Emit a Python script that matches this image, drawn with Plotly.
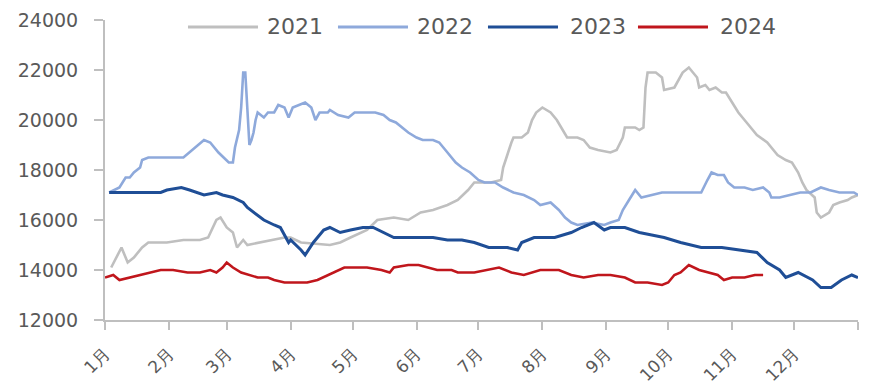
import plotly.graph_objects as go

# Day-of-year positions (0 = 1 Jan) and prices for each year
day_2021 = [3, 8, 11, 14, 18, 21, 30, 38, 46, 50, 54, 56, 59, 62, 64, 67, 69, 75, 87, 90,
            95, 109, 114, 119, 127, 132, 140, 147, 153, 159, 166, 171, 176, 179, 187, 192,
            193, 197, 198, 202, 205, 207, 209, 212, 216, 219, 221, 224, 229, 232, 235, 239,
            245, 248, 251, 252, 257, 259, 261, 262, 263, 267, 270, 271, 276, 280, 283, 287,
            288, 291, 293, 296, 299, 301, 304, 307, 311, 316, 321, 326, 330, 333, 336, 338,
            340, 344, 345, 347, 351, 353, 356, 360, 362, 365]
val_2021 = [14100, 14900, 14300, 14500, 14900, 15100, 15100, 15200, 15200, 15300, 16000, 16100,
            15700, 15500, 14900, 15200, 15000, 15100, 15300, 15300, 15100, 15000, 15100, 15300,
            15600, 16000, 16100, 16000, 16300, 16400, 16600, 16800, 17200, 17500, 17500, 17600,
            18100, 19100, 19300, 19300, 19500, 20000, 20300, 20500, 20300, 20000, 19700, 19300,
            19300, 19200, 18900, 18800, 18700, 18800, 19300, 19700, 19700, 19600, 19700, 21300,
            21900, 21900, 21700, 21200, 21300, 21900, 22100, 21700, 21300, 21400, 21200, 21300,
            21100, 21100, 20700, 20300, 19900, 19400, 19100, 18600, 18400, 18300, 17900, 17500,
            17200, 16900, 16300, 16100, 16300, 16600, 16700, 16800, 16900, 17000]

day_2022 = [2, 7, 10, 12, 14, 17, 18, 21, 38, 41, 48, 51, 55, 60, 62, 63, 65, 66, 67, 68,
            69, 70, 71, 72, 73, 74, 77, 79, 82, 84, 87, 89, 91, 94, 97, 100, 102, 104, 108,
            109, 113, 118, 121, 126, 131, 135, 138, 141, 144, 147, 151, 154, 159, 162, 165,
            169, 170, 173, 177, 181, 184, 189, 193, 198, 203, 208, 211, 216, 220, 223, 226,
            229, 236, 242, 245, 249, 251, 254, 257, 260, 265, 270, 275, 280, 287, 289, 292,
            294, 297, 300, 302, 305, 310, 314, 319, 322, 323, 327, 332, 337, 342, 347, 351,
            356, 363, 365]
val_2022 = [17100, 17300, 17700, 17700, 17900, 18100, 18400, 18500, 18500, 18700, 19200, 19100,
            18700, 18300, 18300, 18900, 19600, 20500, 21900, 21900, 20500, 19000, 19200, 19500,
            20000, 20300, 20100, 20300, 20300, 20600, 20500, 20100, 20500, 20600, 20700, 20500,
            20000, 20300, 20300, 20400, 20200, 20100, 20300, 20300, 20300, 20200, 20000, 19900,
            19700, 19500, 19300, 19200, 19200, 19100, 18800, 18400, 18300, 18100, 17900, 17600,
            17500, 17500, 17300, 17100, 17000, 16800, 16600, 16700, 16400, 16100, 15900, 15800,
            15900, 15800, 15900, 16000, 16400, 16800, 17200, 16900, 17000, 17100, 17100, 17100,
            17100, 17100, 17600, 17900, 17800, 17800, 17500, 17300, 17300, 17200, 17300, 17100,
            16900, 16900, 17000, 17100, 17100, 17300, 17200, 17100, 17100, 17000]

day_2023 = [2, 27, 30, 37, 41, 45, 48, 54, 57, 62, 67, 69, 72, 77, 82, 85, 89, 90, 95, 97,
            101, 106, 109, 114, 119, 125, 130, 135, 140, 147, 153, 159, 166, 173, 179, 186,
            195, 200, 202, 208, 218, 226, 231, 237, 242, 245, 252, 259, 265, 271, 279, 289,
            299, 309, 316, 321, 327, 330, 336, 343, 347, 352, 357, 362, 365]
val_2023 = [17100, 17100, 17200, 17300, 17200, 17100, 17000, 17100, 17000, 16900, 16700, 16500,
            16300, 16000, 15800, 15700, 15100, 15200, 14800, 14600, 15100, 15600, 15700, 15500,
            15600, 15700, 15700, 15500, 15300, 15300, 15300, 15300, 15200, 15200, 15100, 14900,
            14900, 14800, 15100, 15300, 15300, 15500, 15700, 15900, 15600, 15700, 15700, 15500,
            15400, 15300, 15100, 14900, 14900, 14800, 14700, 14300, 14000, 13700, 13900, 13600,
            13300, 13300, 13600, 13800, 13700]

day_2024 = [0, 4, 7, 12, 17, 22, 27, 33, 40, 46, 51, 54, 57, 59, 62, 66, 70, 74, 79, 82,
            87, 91, 98, 103, 108, 111, 116, 121, 127, 134, 138, 140, 147, 152, 156, 161, 168,
            171, 179, 191, 197, 203, 211, 220, 226, 232, 239, 245, 252, 257, 263, 270, 273,
            276, 279, 283, 288, 293, 297, 300, 304, 310, 315, 319]
val_2024 = [13700, 13800, 13600, 13700, 13800, 13900, 14000, 14000, 13900, 13900, 14000, 13900,
            14100, 14300, 14100, 13900, 13800, 13700, 13700, 13600, 13500, 13500, 13500, 13600,
            13800, 13900, 14100, 14100, 14100, 14000, 13900, 14100, 14200, 14200, 14100, 14000,
            14000, 13900, 13900, 14100, 13900, 13800, 14000, 14000, 13800, 13700, 13800, 13800,
            13700, 13500, 13500, 13400, 13500, 13800, 13900, 14200, 14000, 13900, 13800, 13600,
            13700, 13700, 13800, 13800]

month_start = [0, 31, 59, 90, 120, 151, 181, 212, 243, 273, 304, 334, 365]
month_text = ["1月", "2月", "3月", "4月", "5月", "6月", "7月", "8月", "9月", "10月", "11月", "12月", ""]
y_ticks = [12000, 14000, 16000, 18000, 20000, 22000, 24000]

series = [
    ("2021", day_2021, val_2021, "#BFBFBF", 2.6),
    ("2022", day_2022, val_2022, "#8EA9DB", 2.6),
    ("2023", day_2023, val_2023, "#1F4E96", 3.0),
    ("2024", day_2024, val_2024, "#C0161C", 2.6),
]

FONT = "DejaVu Sans"
TXT = "#595959"
AXIS = "#BFBFBF"

fig = go.Figure()
for name, d, v, color, w in series:
    fig.add_trace(go.Scatter(x=d, y=v, mode="lines", name=name,
                             line=dict(color=color, width=w), showlegend=False))

# Legend row across the top: long line sample followed by the year
legend_pos = [(0.1102, 0.2032, 0.2125), (0.3094, 0.4024, 0.4117),
              (0.5086, 0.6016, 0.6149), (0.7078, 0.8008, 0.8141)]
ly = 0.977
for (name, _, _, color, w), (x0, x1, xt) in zip(series, legend_pos):
    fig.add_shape(type="line", xref="paper", yref="paper", x0=x0, x1=x1, y0=ly, y1=ly,
                  line=dict(color=color, width=3))
    fig.add_annotation(xref="paper", yref="paper", x=xt, y=ly, text=name, showarrow=False,
                       xanchor="left", yanchor="middle",
                       font=dict(family=FONT, size=22, color=TXT))

fig.update_layout(
    width=884, height=392,
    margin=dict(l=105, r=26, t=20, b=72),
    paper_bgcolor="white", plot_bgcolor="white",
    font=dict(family=FONT, color=TXT),
)
fig.update_xaxes(
    range=[0, 365], tickmode="array", tickvals=month_start, ticktext=month_text,
    tickangle=-45, ticks="outside", ticklen=8, tickcolor=AXIS, tickwidth=1.5,
    ticklabelstandoff=7, automargin=False,
    showline=True, linecolor=AXIS, linewidth=2, showgrid=False, zeroline=False,
    tickfont=dict(family=FONT, size=17, color=TXT),
)
fig.update_yaxes(
    range=[12000, 24000], tickmode="array", tickvals=y_ticks, tickformat="d",
    ticks="outside", ticklen=9, tickcolor=AXIS, tickwidth=1.5, ticklabelstandoff=12,
    automargin=False,
    showline=True, linecolor=AXIS, linewidth=2, showgrid=False, zeroline=False,
    tickfont=dict(family=FONT, size=19, color=TXT),
)

fig.write_html("out.html")
